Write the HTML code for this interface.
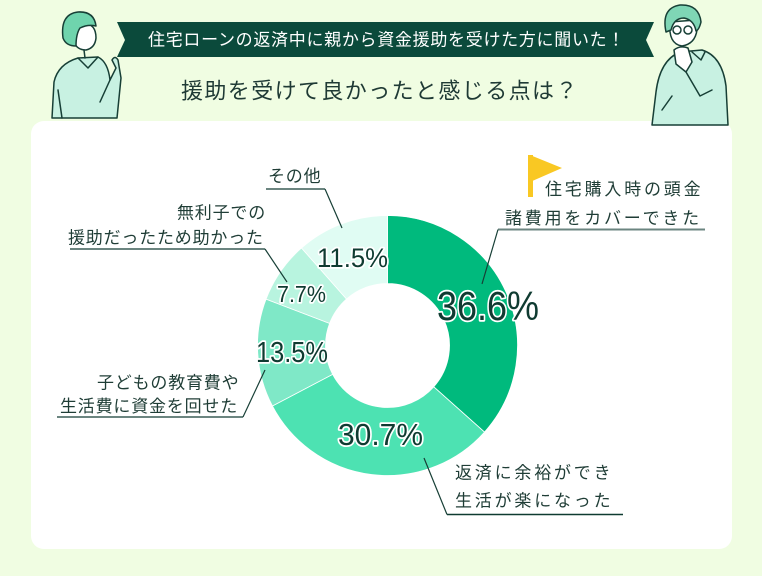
<!DOCTYPE html>
<html><head><meta charset="utf-8"><style>
html,body{margin:0;padding:0;background:#f0fde2;}
svg{display:block;}
.jp{font-family:"Liberation Sans","Noto Sans CJK JP",sans-serif;}
.pct{font-family:"Liberation Sans",sans-serif;fill:#0f3b31;stroke:#fff;stroke-width:3.5;paint-order:stroke;stroke-linejoin:round;}
.lbl{font-family:"Liberation Sans","Noto Sans CJK JP",sans-serif;font-size:17px;fill:#1f3d36;}
</style></head><body>
<svg width="762" height="576" viewBox="0 0 762 576" xmlns="http://www.w3.org/2000/svg">
<rect width="762" height="576" fill="#f0fde2"/>
<!-- card -->
<rect x="31" y="121" width="701" height="428" rx="13" fill="#ffffff"/>

<!-- banner -->
<polygon points="117,22 654,22 646,40 654,57 117,57 125,40" fill="#0b4a3b"/>
<text class="jp" x="148" y="45.5" font-size="17" fill="#ffffff" letter-spacing="0.7">住宅ローンの返済中に親から資金援助を受けた方に聞いた！</text>
<text class="jp" x="181" y="98.5" font-size="22" fill="#1f3a35" letter-spacing="1.4">援助を受けて良かったと感じる点は？</text>

<!-- left person -->
<g stroke="#173f36" stroke-width="1.5" stroke-linejoin="round" stroke-linecap="round">
  <path d="M52,118 L54,82 Q58,64 78,58 L98,57 Q108,62 110,80 L116,68 L112,60 Q115,55 118,60 L121,78 L117,118 Z" fill="#c8f1e2"/>
  <path d="M78,58 L88,68 L98,57" fill="none"/>
  <path d="M74,38 Q74,24 84,23 Q96,24 96,38 Q95,48 86,50 Q77,50 74,42 Z" fill="#ffffff"/>
  <path d="M63,38 Q60,14 78,12 Q94,11 96,26 Q88,24 80,28 Q76,34 76,46 Q66,46 63,38 Z" fill="#6fd4ad"/>
  <path d="M84,50 L85,58" fill="none"/>
  <path d="M110,80 L100,102" fill="none"/>
  <path d="M58,90 L62,118" fill="none"/>
</g>

<!-- right person -->
<g stroke="#173f36" stroke-width="1.5" stroke-linejoin="round" stroke-linecap="round">
  <path d="M652,125 L656,92 Q660,60 680,52 L702,50 Q722,56 726,86 L728,125 Z" fill="#c8f1e2"/>
  <path d="M670,22 Q668,44 682,46 Q695,44 697,30 L696,20 Z" fill="#ffffff"/>
  <path d="M666,32 Q661,8 680,5 Q699,4 701,22 Q699,30 696,31 Q694,20 684,18 Q674,18 671,30 Z" fill="#7fd6b5"/>
  <circle cx="677" cy="30" r="4" fill="#ffffff"/>
  <circle cx="688" cy="30" r="4" fill="#ffffff"/>
  <path d="M674,50 Q680,45 688,48 L692,62 L686,72 L676,64 Z" fill="#ffffff"/>
  <path d="M686,72 L700,96 L712,90" fill="none"/>
  <path d="M692,52 L701,60 L705,52" fill="none"/>
  <path d="M662,110 L672,96" fill="none"/>
</g>

<!-- donut -->
<g stroke="#ffffff" stroke-width="0.8">
<path d="M387.5,215.5 A130,130 0 0 1 484.47,432.09 L433.75,386.80 A62,62 0 0 0 387.5,283.5 Z" fill="#00ba7d"/>
<path d="M484.47,432.09 A130,130 0 0 1 272.42,405.96 L332.62,374.34 A62,62 0 0 0 433.75,386.80 Z" fill="#4de2b2"/>
<path d="M272.42,405.96 A130,130 0 0 1 266.04,299.17 L329.57,323.40 A62,62 0 0 0 332.62,374.34 Z" fill="#7fe8c7"/>
<path d="M266.04,299.17 A130,130 0 0 1 301.53,247.99 L346.5,298.99 A62,62 0 0 0 329.57,323.40 Z" fill="#b8f4df"/>
<path d="M301.53,247.99 A130,130 0 0 1 387.5,215.5 L387.5,283.5 A62,62 0 0 0 346.5,298.99 Z" fill="#e0fcf3"/>
</g>

<!-- leader lines & underlines -->
<g fill="none" stroke-width="1.2">
  <line x1="498" y1="229.5" x2="705" y2="229.5" stroke="#6b8580" stroke-width="2"/>
  <line x1="498" y1="229.5" x2="482" y2="284" stroke="#173f36"/>
  <line x1="266" y1="189" x2="325" y2="189" stroke="#6b8580" stroke-width="2"/>
  <line x1="325" y1="189" x2="342" y2="228" stroke="#173f36"/>
  <line x1="70" y1="249" x2="265" y2="249" stroke="#6b8580" stroke-width="2"/>
  <line x1="265" y1="249" x2="287" y2="282" stroke="#173f36"/>
  <line x1="57" y1="417" x2="243" y2="417" stroke="#6b8580" stroke-width="2"/>
  <line x1="243" y1="417" x2="265" y2="370" stroke="#173f36"/>
  <line x1="447" y1="514.5" x2="623" y2="514.5" stroke="#0f3b31" stroke-width="1.5"/>
  <line x1="447" y1="514.5" x2="424" y2="458" stroke="#173f36"/>
</g>

<!-- flag -->
<rect x="528" y="155" width="5" height="42" fill="#f9c823"/>
<polygon points="530,155 562,168 530,182" fill="#f9c823"/>

<!-- outer labels -->
<text class="lbl" x="545" y="195" letter-spacing="2.8">住宅購入時の頭金</text>
<text class="lbl" x="505" y="224" letter-spacing="2.8">諸費用をカバーできた</text>
<text class="lbl" x="268" y="182" letter-spacing="0.8">その他</text>
<text class="lbl" x="177" y="218.5" letter-spacing="0.8">無利子での</text>
<text class="lbl" x="68" y="243.5" letter-spacing="0.8">援助だったため助かった</text>
<text class="lbl" x="97" y="388.5" letter-spacing="0.8">子どもの教育費や</text>
<text class="lbl" x="60" y="412" letter-spacing="0.8">生活費に資金を回せた</text>
<text class="lbl" x="455" y="478.5" letter-spacing="2.8">返済に余裕ができ</text>
<text class="lbl" x="455" y="506.5" letter-spacing="2.8">生活が楽になった</text>

<!-- percentages -->
<text class="pct" x="437" y="320" font-size="41" textLength="102" lengthAdjust="spacingAndGlyphs">36.6%</text>
<text class="pct" x="338" y="445" font-size="31" textLength="85" lengthAdjust="spacingAndGlyphs">30.7%</text>
<text class="pct" x="256" y="362" font-size="29" textLength="72" lengthAdjust="spacingAndGlyphs">13.5%</text>
<text class="pct" x="277" y="302" font-size="23" textLength="49" lengthAdjust="spacingAndGlyphs">7.7%</text>
<text class="pct" x="317" y="267" font-size="27" textLength="71" lengthAdjust="spacingAndGlyphs">11.5%</text>
</svg>
</body></html>
